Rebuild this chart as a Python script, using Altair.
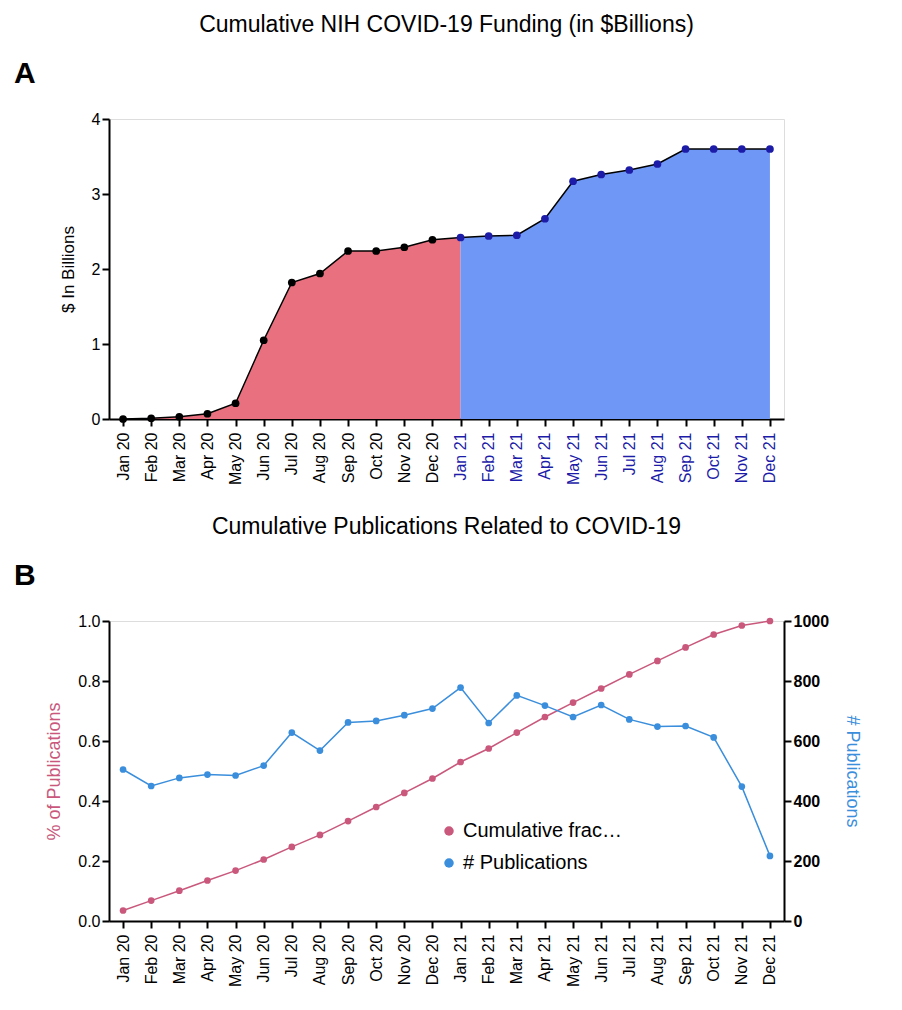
import altair as alt
import pandas as pd

MONTHS = [f"{m} {y}" for y in ("20", "21") for m in
          ["Jan", "Feb", "Mar", "Apr", "May", "Jun", "Jul", "Aug", "Sep", "Oct", "Nov", "Dec"]]

FUNDING = [0.0, 0.01, 0.03, 0.07, 0.21, 1.05, 1.82, 1.94, 2.24, 2.24, 2.29, 2.39,
           2.42, 2.44, 2.45, 2.67, 3.17, 3.26, 3.32, 3.40, 3.60, 3.60, 3.60, 3.60]

CUM_FRACTION = [0.035, 0.068, 0.101, 0.135, 0.168, 0.205, 0.247, 0.287, 0.333, 0.38, 0.427, 0.475,
                0.53, 0.575, 0.628, 0.68, 0.728, 0.775, 0.822, 0.867, 0.912, 0.955, 0.985, 1.0]

PUBLICATIONS = [505, 450, 477, 488, 485, 518, 628, 568, 662, 667, 686, 708,
                778, 660, 752, 718, 680, 720, 672, 648, 650, 612, 448, 217]

df = pd.DataFrame({"month": MONTHS, "funding": FUNDING, "frac": CUM_FRACTION, "pubs": PUBLICATIONS,
                   "year": [m[-2:] for m in MONTHS]})

FONT = "Liberation Sans"
RED, BLUE, NAVY = "#E8707F", "#6F97F5", "#1C1CA8"
PINK, SKY = "#C9587C", "#3A8EDC"

xscale = alt.Scale(type="point", domain=MONTHS, padding=0.5)
base_axis = dict(labelFont=FONT, titleFont=FONT, domainColor="black", domainWidth=2,
                 tickColor="black", tickWidth=2, tickSize=7, labelFontSize=16, titleFontSize=17,
                 titleFontWeight="normal", grid=False, labelColor="black")
x_axis = alt.Axis(title=None, labelAngle=-90, labelPadding=6, **{**base_axis,
                  "labelColor": {"condition": {"test": "slice(datum.value, -2) == '21'", "value": NAVY},
                                 "value": "black"}})
x = alt.X("month:O", scale=xscale, axis=x_axis, sort=MONTHS)

W, H = 675, 300
TOFF = 22


def letter(t):
    return alt.Chart(pd.DataFrame({"t": [t]})).mark_text(
        font=FONT, fontSize=30, fontWeight="bold", align="left", baseline="bottom").encode(
        text="t:N", x=alt.value(-95), y=alt.value(-TOFF - 8))


A = alt.Chart(df)
red = A.transform_filter("datum.year == '20' || datum.month == 'Jan 21'").mark_area(color=RED).encode(
    x=x, y=alt.Y("funding:Q", scale=alt.Scale(domain=[0, 4]),
                 axis=alt.Axis(title="$ In Billions", tickCount=4, titlePadding=14, **base_axis)))
blue = A.transform_filter("datum.year == '21'").mark_area(color=BLUE).encode(x=x, y="funding:Q")
line = A.mark_line(color="black", strokeWidth=1.5).encode(x=x, y="funding:Q")
dots = A.mark_circle(size=60, opacity=1).encode(
    x=x, y="funding:Q",
    color=alt.Color("year:N", scale=alt.Scale(domain=["20", "21"], range=["black", NAVY]), legend=None))
panelA = alt.layer(red, blue, line, dots, letter("A")).properties(
    width=W, height=H,
    title=alt.TitleParams("Cumulative NIH COVID-19 Funding (in $Billions)", font=FONT, fontSize=23,
                          fontWeight="normal", offset=TOFF))

B = alt.Chart(df)
leg_scale = alt.Scale(domain=["Cumulative fraction", "# Publications"], range=[PINK, SKY])
legend = alt.Legend(title=None, orient="none", legendX=330, legendY=200, labelFont=FONT,
                    labelFontSize=20, symbolSize=90, rowPadding=12, symbolType="circle",
                    symbolStrokeWidth=0)
xB = alt.X("month:O", scale=xscale, sort=MONTHS,
           axis=alt.Axis(title=None, labelAngle=-90, labelPadding=6, **base_axis))
fracl = B.transform_calculate(k="'Cumulative fraction'").mark_line(
    point=alt.OverlayMarkDef(size=45, filled=True), strokeWidth=1.5).encode(
    x=xB, y=alt.Y("frac:Q", scale=alt.Scale(domain=[0, 1]),
                  axis=alt.Axis(title="% of Publications", tickCount=5, format=".1f", titlePadding=14,
                                **{**base_axis, "titleColor": PINK, "titleFontSize": 18})),
    color=alt.Color("k:N", scale=leg_scale, legend=legend))
publ = B.transform_calculate(k="'# Publications'").mark_line(
    point=alt.OverlayMarkDef(size=45, filled=True), strokeWidth=1.5).encode(
    x=xB, y=alt.Y("pubs:Q", scale=alt.Scale(domain=[0, 1000]),
                  axis=alt.Axis(title="# Publications", orient="right", tickCount=5, format="d",
                                titlePadding=14,
                                **{**base_axis, "titleColor": SKY, "titleFontSize": 18,
                                   "labelFontWeight": "bold"})),
    color=alt.Color("k:N", scale=leg_scale, legend=legend))
panelB = alt.layer(fracl, publ, letter("B")).resolve_scale(y="independent").properties(
    width=W, height=H,
    title=alt.TitleParams("Cumulative Publications Related to COVID-19", font=FONT, fontSize=23,
                          fontWeight="normal", offset=TOFF))

chart = alt.vconcat(panelA, panelB, spacing=30).resolve_scale(color="independent").configure_view(
    stroke=None, strokeWidth=0).configure(
    padding={"left": 5, "top": 5, "right": 5, "bottom": 5}, background="white")

chart.save("out.html", embed_options={"renderer": "svg", "actions": False})
